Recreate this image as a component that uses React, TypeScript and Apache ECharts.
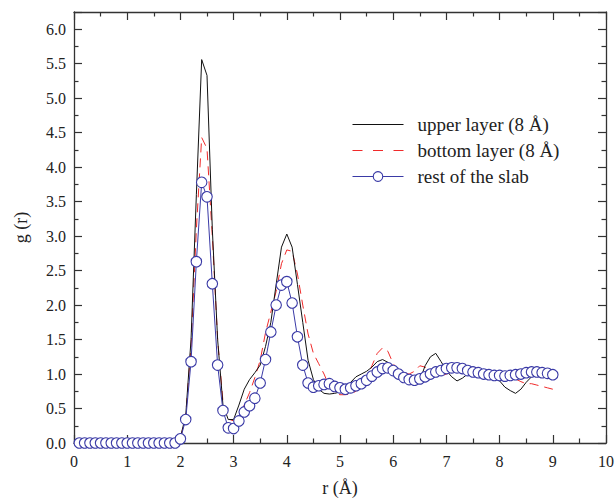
import React, { useEffect, useRef } from "react";
import * as echarts from "echarts";

// r from 0.1 to 9.0 Å in steps of 0.1
const rAxis: number[] = Array.from({ length: 90 }, (_, i) => Math.round((i + 1)) / 10);

const zeros19 = [0, 0, 0, 0, 0, 0, 0, 0, 0, 0, 0, 0, 0, 0, 0, 0, 0, 0, 0];

const upperLayer: number[] = [
  ...zeros19,
  0.08, 0.4, 1.5, 3.6, 5.56, 5.33, 3.1, 1.5, 0.55, 0.34,
  0.34, 0.55, 0.78, 0.92, 1.02, 1.13, 1.4, 1.75, 2.3, 2.84,
  3.03, 2.84, 2.3, 1.75, 1.2, 0.92, 0.78, 0.72, 0.71, 0.72,
  0.74, 0.8, 0.88, 0.96, 1.0, 1.04, 1.1, 1.18, 1.21, 1.17,
  1.1, 1.03, 0.97, 0.91, 0.86, 0.91, 1.12, 1.25, 1.3, 1.18,
  1.05, 0.96, 0.9, 0.94, 1.0, 1.04, 1.06, 1.06, 1.02, 0.97,
  0.9, 0.81, 0.76, 0.72, 0.78, 0.88, 0.96, 1.02, 1.03, 1.0,
  0.96,
];

const bottomLayer: number[] = [
  ...zeros19,
  0.06, 0.4, 1.4, 3.1, 4.43, 4.27, 3.0, 1.5, 0.6, 0.35,
  0.32, 0.4, 0.55, 0.73, 0.95, 1.2, 1.6, 1.9, 2.2, 2.6,
  2.8, 2.78, 2.45, 2.0, 1.58, 1.3, 1.15, 1.0, 0.82, 0.72,
  0.7, 0.7, 0.71, 0.75, 0.82, 0.93, 1.12, 1.3, 1.38, 1.33,
  1.15, 1.06, 1.02, 1.0, 1.04, 1.12, 1.1, 1.04, 0.98, 0.97,
  1.0, 1.03, 1.06, 1.08, 1.1, 1.1, 1.08, 1.05, 1.02, 0.99,
  0.97, 0.96, 0.96, 0.93, 0.89, 0.86, 0.86, 0.84, 0.82, 0.8,
  0.78,
];

const restOfSlab: number[] = [
  ...zeros19,
  0.06, 0.34, 1.18, 2.63, 3.78, 3.57, 2.31, 1.13, 0.47, 0.22,
  0.21, 0.32, 0.45, 0.54, 0.65, 0.87, 1.21, 1.61, 2.0, 2.29,
  2.34, 2.03, 1.54, 1.13, 0.87, 0.81, 0.83, 0.85, 0.86, 0.82,
  0.8, 0.78, 0.8, 0.83, 0.86, 0.91, 0.97, 1.03, 1.08, 1.09,
  1.05, 1.0, 0.95, 0.92, 0.91, 0.93, 0.96, 1.0, 1.03, 1.05,
  1.08, 1.09, 1.09, 1.08, 1.05, 1.03, 1.02, 1.0, 0.99, 0.98,
  0.98, 0.97, 0.98, 0.99, 1.0, 1.02, 1.03, 1.03, 1.02, 1.01,
  0.99,
];

const seriesNames = ["upper layer (8 Å)", "bottom layer (8 Å)", "rest of the slab"];

const pair = (ys: number[]) => rAxis.map((r, i) => [r, ys[i]]);

const FONT = "'Liberation Serif', 'Times New Roman', serif";
const AXIS_COLOR = "#333";
const BLACK = "#111";
const RED = "#f02a2a";
const BLUE = "#3a3aa6";

export default function App() {
  const ref = useRef<HTMLDivElement>(null);
  useEffect(() => {
    if (!ref.current) return;
    const chart = echarts.init(ref.current, undefined, { renderer: "svg" });
    const axisLine = { show: true, onZero: false, lineStyle: { color: AXIS_COLOR, width: 1.3 } };
    const tick = { show: true, inside: true, length: 8, lineStyle: { color: AXIS_COLOR, width: 1.2 } };
    const minor = { show: true, splitNumber: 2, length: 4.5, lineStyle: { color: AXIS_COLOR, width: 1.2 } };
    chart.setOption({
      animation: false,
      backgroundColor: "#fff",
      grid: { left: 74, right: 9, top: 12, bottom: 55, containLabel: false, outerBoundsMode: "none" },
      legend: {
        orient: "vertical",
        left: 352,
        top: 115,
        padding: 0,
        itemWidth: 51,
        itemHeight: 12,
        itemGap: 7,
        symbolKeepAspect: true,
        data: [
          { name: seriesNames[0], icon: "path://M0,0h51v1.1h-51z", itemStyle: { color: BLACK } },
          {
            name: seriesNames[1],
            icon: "path://M0,0h10v1.1h-10z M20.5,0h10v1.1h-10z M41,0h10v1.1h-10z",
            itemStyle: { color: RED },
          },
          {
            name: seriesNames[2],
            lineStyle: { width: 1, color: BLUE },
            itemStyle: { color: "#fff", borderColor: BLUE, borderWidth: 1.1 },
          },
        ],
        textStyle: { fontFamily: FONT, fontSize: 19, color: "#222", padding: [0, 0, 0, 9] },
      },
      xAxis: [
        {
          type: "value",
          min: 0,
          max: 10,
          interval: 1,
          position: "bottom",
          name: "r (Å)",
          nameLocation: "middle",
          nameGap: 36,
          nameTextStyle: { fontFamily: FONT, fontSize: 18, color: "#222" },
          axisLine,
          axisTick: tick,
          minorTick: minor,
          splitLine: { show: false },
          axisLabel: { fontFamily: FONT, fontSize: 16, color: "#222", margin: 10 },
        },
        {
          type: "value",
          min: 0,
          max: 10,
          interval: 1,
          position: "top",
          axisLine,
          axisTick: tick,
          minorTick: minor,
          splitLine: { show: false },
          axisLabel: { show: false },
        },
      ],
      yAxis: [
        {
          type: "value",
          min: 0,
          max: 6.25,
          interval: 0.5,
          position: "left",
          name: "g (r)",
          nameLocation: "middle",
          nameGap: 44,
          nameRotate: 90,
          nameTextStyle: { fontFamily: FONT, fontSize: 18, color: "#222" },
          axisLine,
          axisTick: tick,
          minorTick: minor,
          splitLine: { show: false },
          axisLabel: {
            fontFamily: FONT,
            fontSize: 16,
            color: "#222",
            margin: 8,
            showMaxLabel: false,
            formatter: (v: number) => v.toFixed(1),
          },
        },
        {
          type: "value",
          min: 0,
          max: 6.25,
          interval: 0.5,
          position: "right",
          axisLine,
          axisTick: tick,
          minorTick: minor,
          splitLine: { show: false },
          axisLabel: { show: false },
        },
      ],
      series: [
        {
          name: seriesNames[0],
          type: "line",
          data: pair(upperLayer),
          showSymbol: false,
          symbol: "none",
          lineStyle: { color: BLACK, width: 1 },
          itemStyle: { color: BLACK },
          z: 3,
        },
        {
          name: seriesNames[1],
          type: "line",
          data: pair(bottomLayer),
          showSymbol: false,
          symbol: "none",
          lineStyle: { color: RED, width: 1, type: [9, 6] },
          itemStyle: { color: RED },
          z: 2,
        },
        {
          name: seriesNames[2],
          type: "line",
          data: pair(restOfSlab),
          symbol: "circle",
          symbolSize: 10.5,
          lineStyle: { color: BLUE, width: 1 },
          itemStyle: { color: "#fff", borderColor: BLUE, borderWidth: 1.1 },
          z: 4,
        },
      ],
    });
    return () => chart.dispose();
  }, []);
  return (
    <div
      ref={ref}
      style={{ position: "fixed", left: 0, top: 0, width: 615, height: 498 }}
    />
  );
}
